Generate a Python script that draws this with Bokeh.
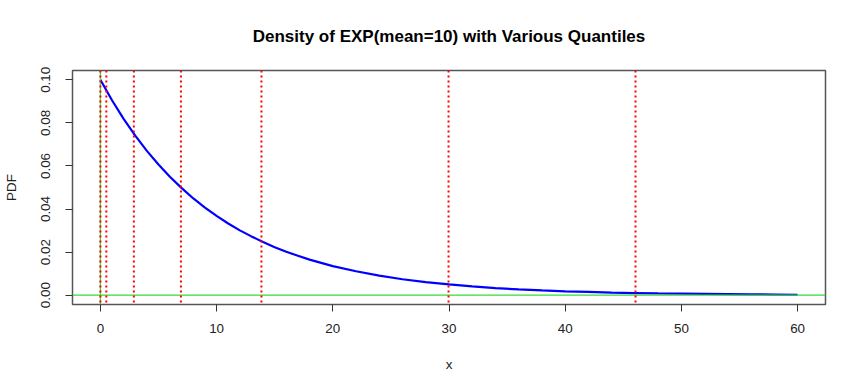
from bokeh.plotting import figure
from bokeh.models import Range1d, FixedTicker, PrintfTickFormatter, Span
from bokeh.embed import file_html
from bokeh.resources import INLINE

# Density curve
curve_x = [0, 1, 2, 3, 4, 5, 6, 7, 8, 9, 10, 11, 12, 13, 14, 15, 16, 17, 18, 19, 20,
           22, 24, 26, 28, 30, 32, 34, 36, 38, 40, 42, 44, 46, 48, 50, 52, 54, 56, 58, 60]
curve_y = [0.1000, 0.0905, 0.0819, 0.0741, 0.0670, 0.0607, 0.0549, 0.0497, 0.0449, 0.0407,
           0.0368, 0.0333, 0.0301, 0.0273, 0.0247, 0.0223, 0.0202, 0.0183, 0.0165, 0.0150,
           0.0135, 0.0111, 0.0091, 0.0074, 0.0061, 0.0050, 0.0041, 0.0033, 0.0027, 0.0022,
           0.0018, 0.0015, 0.0012, 0.0010, 0.0008, 0.0007, 0.0006, 0.0005, 0.0004, 0.0003,
           0.0002]
# Quantile positions (red dotted lines)
quantiles = [0.0, 0.51, 2.88, 6.93, 13.86, 29.96, 46.05]
x_ticks = [0, 10, 20, 30, 40, 50, 60]
y_ticks = [0.00, 0.02, 0.04, 0.06, 0.08, 0.10]
title_text = "Density of EXP(mean=10) with Various Quantiles"

FONT = "Liberation Sans"

p = figure(width=844, height=375, output_backend="svg", toolbar_location=None,
           x_range=Range1d(-2.4, 62.4), y_range=Range1d(-0.00432, 0.10432),
           title=title_text,
           min_border_left=71, min_border_right=19, min_border_top=70, min_border_bottom=71)

p.title.align = "center"
p.title.text_font = FONT
p.title.text_font_size = "17px"
p.title.text_font_style = "bold"
p.title.text_color = "black"
p.title.standoff = 49

p.grid.visible = False
p.outline_line_color = "#555555"
p.outline_line_width = 1.5
p.background_fill_color = "white"
p.border_fill_color = "white"

for ax in (p.xaxis[0], p.yaxis[0]):
    ax.axis_line_color = None
    ax.major_tick_line_color = "#333333"
    ax.major_tick_out = 7
    ax.major_tick_in = 0
    ax.minor_tick_line_color = None
    ax.major_label_text_font = FONT
    ax.major_label_text_font_size = "13.4px"
    ax.major_label_text_color = "#222222"
    ax.axis_label_text_font = FONT
    ax.axis_label_text_font_size = "13.4px"
    ax.axis_label_text_font_style = "normal"
    ax.axis_label_text_color = "#222222"

p.xaxis.ticker = FixedTicker(ticks=x_ticks)
p.yaxis.ticker = FixedTicker(ticks=y_ticks)
p.yaxis.formatter = PrintfTickFormatter(format="%.2f")
p.yaxis.major_label_orientation = "vertical"
p.xaxis.axis_label = "x"
p.yaxis.axis_label = "PDF"
p.xaxis.major_label_standoff = 12
p.yaxis.major_label_standoff = 15
p.xaxis.axis_label_standoff = 21
p.yaxis.axis_label_standoff = 20

p.add_layout(Span(location=0, dimension="width", line_color="#33dd33", line_width=1.2))
p.add_layout(Span(location=0, dimension="height", line_color="#33dd33", line_width=1.2))

for q in quantiles:
    p.add_layout(Span(location=q, dimension="height", line_color="red",
                      line_width=2, line_dash="2 3"))

p.line(curve_x, curve_y, line_color="blue", line_width=2.2)

open("out.html", "w").write(file_html(p, INLINE))
